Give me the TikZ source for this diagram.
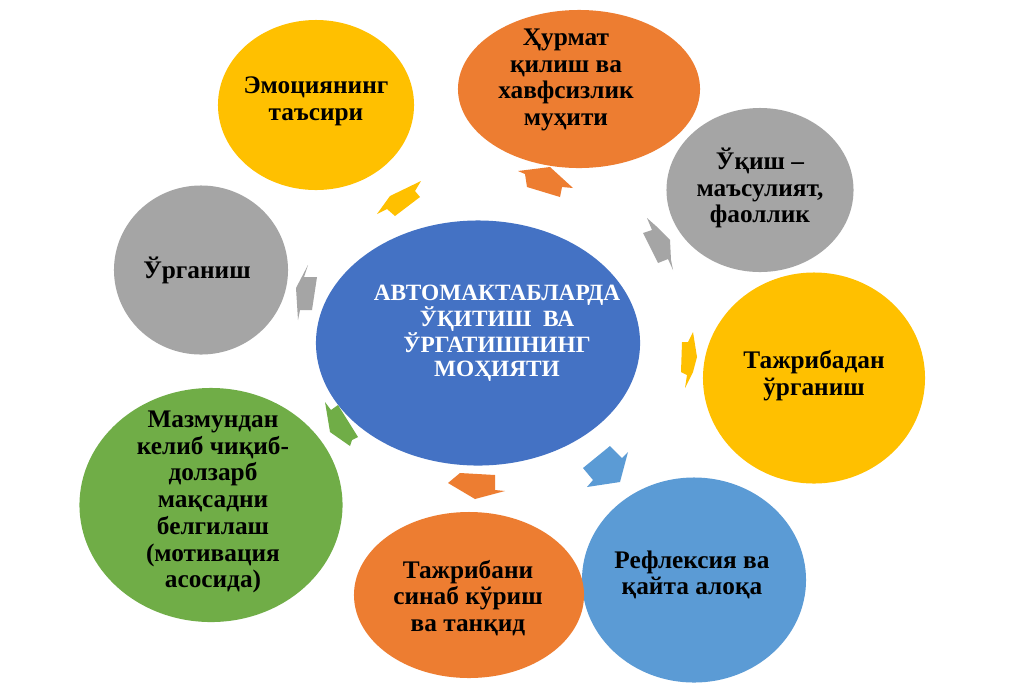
\documentclass[tikz,border=0pt]{standalone}
\usepackage{fontspec}
\setmainfont{Liberation Serif}
\usetikzlibrary{shapes.geometric}
\definecolor{hubblue}{RGB}{68,114,196}
\definecolor{ringorange}{RGB}{237,125,49}
\definecolor{ringyellow}{RGB}{255,192,0}
\definecolor{ringgray}{RGB}{165,165,165}
\definecolor{ringblue}{RGB}{91,155,213}
\definecolor{ringgreen}{RGB}{112,173,71}

\tikzset{
  blob/.style={ellipse, draw=none, inner sep=0pt},
  blobtext/.style={align=center, text=black, inner sep=0pt,
    font=\fontsize{18}{19}\selectfont\bfseries},
  hubtext/.style={align=center, text=white, inner sep=0pt,
    font=\fontsize{16.6}{16.8}\selectfont\bfseries}
}

\begin{document}
\begin{tikzpicture}[x=0.025cm,y=-0.025cm]
  % --- page ---
  \fill[white] (0,0) rectangle (1012,693);
  \useasboundingbox (0,0) rectangle (1012,693);

  % --- outer ellipses ---
  \node[blob,fill=ringyellow,minimum width=4.9cm,minimum height=4.25cm] (emotion) at (316,105) {};
  \node[blob,fill=ringorange,minimum width=6.05cm,minimum height=3.95cm] (respect) at (579,89) {};
  \node[blob,fill=ringgray,minimum width=4.675cm,minimum height=4.1cm] (reading) at (760,190) {};
  \node[blob,fill=ringyellow,minimum width=5.55cm,minimum height=5.275cm] (experience) at (814,378) {};
  \node[blob,fill=ringblue,minimum width=5.6cm,minimum height=5.125cm] (reflection) at (694,580) {};
  \node[blob,fill=ringorange,minimum width=5.75cm,minimum height=4.15cm] (testing) at (469,595) {};
  \node[blob,fill=ringgreen,minimum width=6.575cm,minimum height=5.85cm] (goal) at (211,505) {};
  \node[blob,fill=ringgray,minimum width=4.35cm,minimum height=4.225cm] (learning) at (201,270) {};

  % --- central ellipse ---
  \node[blob,fill=hubblue,minimum width=8.1cm,minimum height=6.125cm] (hub) at (478,343) {};

  % --- texts ---
  \node[hubtext] (hub-t) at (497,333) {АВТОМАКТАБЛАРДА\\ЎҚИТИШ\ \ ВА\\ЎРГАТИШНИНГ\\МОҲИЯТИ};
  \node[blobtext] (emotion-t) at (316,101) {Эмоциянинг\\таъсири};
  \node[blobtext] (respect-t) at (566,80) {Ҳурмат\\қилиш ва\\хавфсизлик\\муҳити};
  \node[blobtext] (reading-t) at (760,188) {Ўқиш --\\маъсулият,\\фаоллик};
  \node[blobtext] (experience-t) at (814,376) {Тажрибадан\\ўрганиш};
  \node[blobtext] (reflection-t) at (692,575) {Рефлексия ва\\қайта алоқа};
  \node[blobtext] (testing-t) at (468,598) {Тажрибани\\синаб кўриш\\ва танқид};
  \node[blobtext] (goal-t) at (213,502) {Мазмундан\\келиб чиқиб-\\долзарб\\мақсадни\\белгилаш\\(мотивация\\асосида)};
  \node[blobtext] (learning-t) at (197,270) {Ўрганиш};

  % --- outward block arrows ---
  \fill[ringyellow] (377,214) -- (390,196) -- (421,181) -- (415,191)
    -- (420,197) -- (395,216) -- (387,209) -- cycle;
  \fill[ringorange] (518,171) -- (550,167) -- (573,188) -- (562,187)
    -- (560,197) -- (527,187) -- (525,174) -- cycle;
  \fill[ringgray] (647,218) -- (656,226) -- (670,240) -- (671,260)
    -- (673,270) -- (668,259) -- (658,263) -- (643,233) -- (652,230) -- cycle;
  \fill[ringyellow] (693,332) -- (697,357) -- (693,372) -- (685,388)
    -- (687,375) -- (681,372) -- (682,342) -- (688,342) -- cycle;
  \fill[ringblue] (610,446) -- (622,458) -- (628,452) -- (620,482)
    -- (587,487) -- (593,480) -- (583,468) -- cycle;
  \fill[ringorange] (448,483) -- (460,473) -- (495,475) -- (495,490)
    -- (505,491) -- (475,499) -- cycle;
  \fill[ringgreen] (325,402) -- (331,410) -- (338,405) -- (358,437)
    -- (352,440) -- (350,446) -- (330,432) -- cycle;
  \fill[ringgray] (308,265) -- (304,277) -- (317,277) -- (312,310)
    -- (300,310) -- (298,320) -- (296,288) -- cycle;
\end{tikzpicture}
\end{document}
